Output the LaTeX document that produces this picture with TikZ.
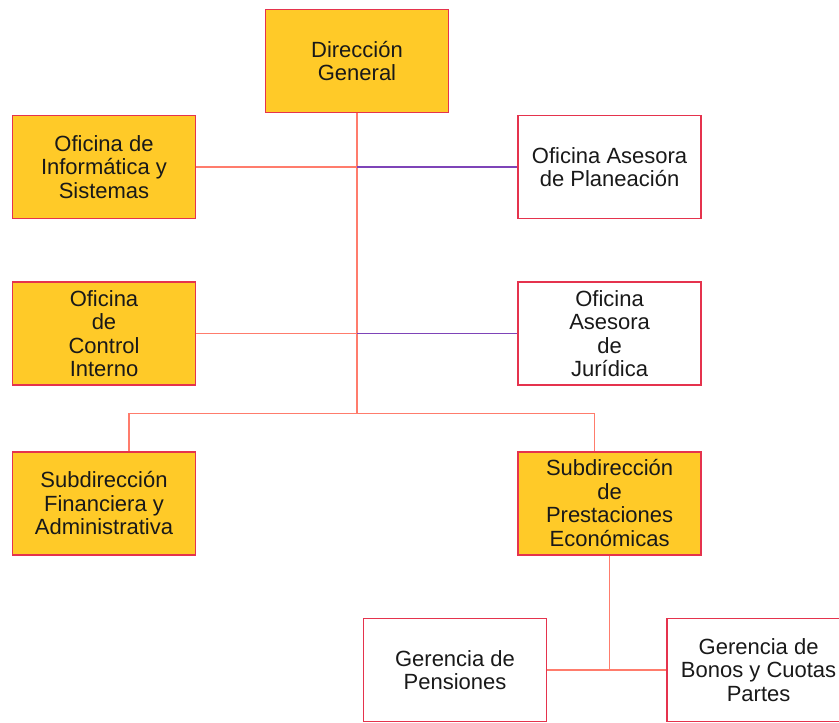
\documentclass[tikz,border=0pt]{standalone}
\usepackage{fontspec}
\setmainfont{Liberation Sans}
\usetikzlibrary{positioning, calc}

\definecolor{boxfill}{HTML}{FFCA28}
\definecolor{boxline}{HTML}{E5334D}
\definecolor{linksalmon}{HTML}{FF7C6C}
\definecolor{linkpurple}{HTML}{7E44B8}

\begin{document}
\begin{tikzpicture}[
    x=1pt, y=-1pt,
    font=\fontsize{22}{23.5}\selectfont,
    unit/.style={draw=boxline, line width=1.6pt, rectangle, minimum height=103pt, minimum width=183pt, inner sep=2pt, align=center, text=black!90},
    office/.style={unit, fill=boxfill},
    advisor/.style={unit, fill=white},
    link/.style={draw=linksalmon, line width=1.5pt},
    adlink/.style={draw=linkpurple, line width=1.5pt}
]
    \useasboundingbox (0,0) rectangle (839,723);

    % Head
    \node[office] (dir) at (357,61) {Dirección\\General};

    % Offices and advisors
    \node[office] (inf) at (104,167) {Oficina de\\Informática y\\Sistemas};
    \node[advisor, right=321pt of inf] (plan) {Oficina Asesora\\de Planeación};
    \node[office, below=62pt of inf] (ctrl) {Oficina\\de\\Control\\Interno};
    \node[advisor, right=321pt of ctrl] (jur) {Oficina\\Asesora\\de\\Jurídica};

    % Subdirections
    \node[office, below=65pt of ctrl] (fin) {Subdirección\\Financiera y\\Administrativa};
    \node[office, right=321pt of fin] (prest) {Subdirección\\de\\Prestaciones\\Económicas};

    % Managements
    \node[advisor] (pens) at (455,670) {Gerencia de\\Pensiones};
    \node[advisor, right=119pt of pens] (bonos) {Gerencia de\\Bonos y Cuotas\\Partes};

    % Trunk
    \coordinate (split) at ($(dir.south)+(0,300)$);
    \draw[link] (dir.south) -- (split);

    % Side branches
    \draw[link] (inf.east) -- (inf.east -| dir.south);
    \draw[adlink] (inf.east -| dir.south) -- (plan.west);
    \draw[link] (ctrl.east) -- (ctrl.east -| dir.south);
    \draw[adlink] (ctrl.east -| dir.south) -- (jur.west);

    % Bottom branches
    \draw[link] (split) -| ([xshift=25pt]fin.north);
    \draw[link] (split) -| ([xshift=-15pt]prest.north);

    % Managements branch
    \draw[link] (prest.south) -- (prest.south |- pens.east);
    \draw[link] (pens.east) -- (bonos.west);

\end{tikzpicture}
\end{document}
